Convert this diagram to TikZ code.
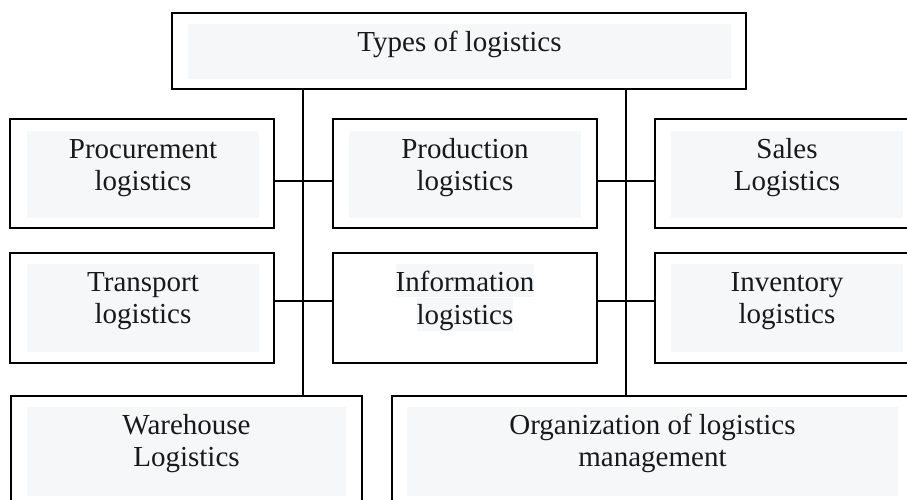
\documentclass[tikz,border=0pt]{standalone}
\usepackage{fontspec}
\setmainfont{Liberation Serif}
\definecolor{boxfill}{RGB}{246,247,249}
\definecolor{txt}{RGB}{25,25,25}
\newcommand{\firststrut}{\rule{0pt}{27pt}}
\begin{document}
\begin{tikzpicture}[x=1pt,y=-1pt,
  frame/.style={draw=black, line width=1.9pt, inner sep=0pt, outer sep=0pt, anchor=north west},
  shadebox/.style={fill=boxfill, inner sep=0pt, outer sep=0pt, anchor=north west},
  lbl/.style={inner sep=0pt, anchor=north, align=center, text=txt, font=\fontsize{29}{32.5}\selectfont},
  hl/.style={fill=boxfill, inner sep=0pt, anchor=north, text=txt, text height=27pt, text depth=6pt, font=\fontsize{29}{32.5}\selectfont},
  conn/.style={draw=black, line width=1.9pt}]
\useasboundingbox (0,0) rectangle (907,499);
\clip (0,0) rectangle (907,499);
\fill[white] (0,0) rectangle (907,499);

% top box
\node[frame, minimum width=574pt, minimum height=76pt] (top) at (172,13) {};
\node[shadebox, minimum width=543pt, minimum height=55pt] (topF) at (188,24) {};
\node[lbl] (topT) at (topF.north) {\firststrut Types of logistics};

% row 1
\node[frame, minimum width=264pt, minimum height=109pt] (proc) at (10,119) {};
\node[shadebox, minimum width=232pt, minimum height=87pt] (procF) at (27,131) {};
\node[lbl] (procT) at (procF.north) {\firststrut Procurement\\logistics};

\node[frame, minimum width=264pt, minimum height=109pt] (prod) at (333,119) {};
\node[shadebox, minimum width=232pt, minimum height=87pt] (prodF) at (349,131) {};
\node[lbl] (prodT) at (prodF.north) {\firststrut Production\\logistics};

\node[frame, minimum width=264pt, minimum height=109pt] (sales) at (655,119) {};
\node[shadebox, minimum width=232pt, minimum height=87pt] (salesF) at (671,131) {};
\node[lbl] (salesT) at (salesF.north) {\firststrut Sales\\Logistics};

% row 2
\node[frame, minimum width=264pt, minimum height=110pt] (trans) at (10,253) {};
\node[shadebox, minimum width=232pt, minimum height=88pt] (transF) at (27,264) {};
\node[lbl] (transT) at (transF.north) {\firststrut Transport\\logistics};

\node[frame, minimum width=264pt, minimum height=110pt] (info) at (333,253) {};
\node[hl] (infoA) at (465,264) {Information};
\node[hl] (infoB) at (infoA.south) {logistics};

\node[frame, minimum width=264pt, minimum height=110pt] (inv) at (655,253) {};
\node[shadebox, minimum width=232pt, minimum height=88pt] (invF) at (671,264) {};
\node[lbl] (invT) at (invF.north) {\firststrut Inventory\\logistics};

% row 3
\node[frame, minimum width=351pt, minimum height=110pt] (ware) at (11,396) {};
\node[shadebox, minimum width=319pt, minimum height=89pt] (wareF) at (27,407) {};
\node[lbl] (wareT) at (wareF.north) {\firststrut Warehouse\\Logistics};

\node[frame, minimum width=522pt, minimum height=110pt] (org) at (392,396) {};
\node[shadebox, minimum width=491pt, minimum height=89pt] (orgF) at (407,407) {};
\node[lbl] (orgT) at (orgF.north) {\firststrut Organization of logistics\\management};

% connectors
\coordinate (xL) at (303.2,0);
\coordinate (xR) at (626,0);
\coordinate (yA) at (0,181);
\coordinate (yB) at (0,301);
\draw[conn] (top.south -| xL) -- (ware.north -| xL);
\draw[conn] (top.south -| xR) -- (org.north -| xR);
\draw[conn] (proc.east |- yA) -- (prod.west |- yA);
\draw[conn] (prod.east |- yA) -- (sales.west |- yA);
\draw[conn] (trans.east |- yB) -- (info.west |- yB);
\draw[conn] (info.east |- yB) -- (inv.west |- yB);
\end{tikzpicture}
\end{document}
